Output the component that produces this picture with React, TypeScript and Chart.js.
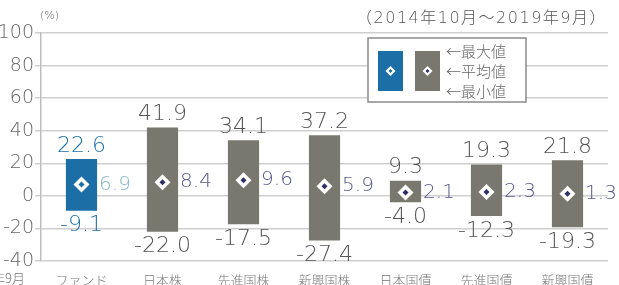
import React, { useEffect, useRef } from "react";
import { Chart, registerables } from "chart.js";

Chart.register(...registerables);

const categories = ["ファンド", "日本株", "先進国株", "新興国株", "日本国債", "先進国債", "新興国債"];
const maxValues = [22.6, 41.9, 34.1, 37.2, 9.3, 19.3, 21.8];
const avgValues = [6.9, 8.4, 9.6, 5.9, 2.1, 2.3, 1.3];
const minValues = [-9.1, -22.0, -17.5, -27.4, -4.0, -12.3, -19.3];
const yTicks = [100, 80, 60, 40, 20, 0, -20, -40];
const periodLabel = "（2014年10月～2019年9月）";
const unitLabel = "(%)";
const legendLabels = ["←最大値", "←平均値", "←最小値"];
const cutLabel = "2019年9月";

const FONT = "'Noto Sans CJK JP', 'Noto Sans', sans-serif";
const NUMFONT = "'DejaVu Sans', 'Noto Sans CJK JP', sans-serif";
const BLUE = "#1b6fa6";
const GRAY = "#78786f";

const barColors = categories.map((_, i) => (i === 0 ? BLUE : GRAY));
const dotColors = categories.map((_, i) => (i === 0 ? BLUE : "#2e2e66"));

function diamond(ctx: CanvasRenderingContext2D, x: number, y: number, r: number, fill: string) {
  ctx.beginPath();
  ctx.moveTo(x, y - r);
  ctx.lineTo(x + r, y);
  ctx.lineTo(x, y + r);
  ctx.lineTo(x - r, y);
  ctx.closePath();
  ctx.fillStyle = fill;
  ctx.fill();
}

const labelPlugin = {
  id: "valueLabels",
  afterDatasetsDraw(chart: any) {
    const ctx = chart.ctx as CanvasRenderingContext2D;
    const xs = chart.scales.x;
    const ys = chart.scales.y;
    const meta = chart.getDatasetMeta(2);
    ctx.save();
    categories.forEach((_, i) => {
      const x = xs.getPixelForValue(i);
      const bar: any = meta.data[i];
      const half = bar && bar.width ? bar.width / 2 : 15.5;
      const isFund = i === 0;
      const mainColor = isFund ? BLUE : "#555555";
      ctx.font = `200 22px ${NUMFONT}`;
      ctx.fillStyle = mainColor;
      ctx.textAlign = "center";
      ctx.textBaseline = "bottom";
      ctx.fillText(maxValues[i].toFixed(1), x, ys.getPixelForValue(maxValues[i]) - 2);
      ctx.textBaseline = "top";
      ctx.fillText(minValues[i].toFixed(1), x, ys.getPixelForValue(minValues[i]) + 4);
      ctx.font = `200 20px ${NUMFONT}`;
      ctx.fillStyle = isFund ? "#86b8cc" : "#57578f";
      ctx.textAlign = "left";
      ctx.textBaseline = "middle";
      ctx.fillText(avgValues[i].toFixed(1), x + half + 2, ys.getPixelForValue(avgValues[i]));
    });
    ctx.restore();
  },
  afterDraw(chart: any) {
    const ctx = chart.ctx as CanvasRenderingContext2D;
    const area = chart.chartArea;
    ctx.save();
    ctx.font = `200 16px ${NUMFONT}`;
    (ctx as any).letterSpacing = "1.5px";
    ctx.fillStyle = "#555";
    ctx.textAlign = "right";
    ctx.textBaseline = "middle";
    ctx.fillText(periodLabel, 607, 19);
    (ctx as any).letterSpacing = "0px";
    ctx.font = `200 11px ${NUMFONT}`;
    ctx.textAlign = "left";
    ctx.fillText(unitLabel, area.left - 1, 16);
    ctx.font = `300 13px ${FONT}`;
    ctx.fillStyle = "#777";
    ctx.textAlign = "right";
    ctx.textBaseline = "top";
    ctx.fillText(cutLabel, 25, 272);
    const bx = 368, by = 38, bw = 158, bh = 64;
    ctx.fillStyle = "#fff";
    ctx.fillRect(bx, by, bw, bh);
    ctx.strokeStyle = "#8a8a8a";
    ctx.lineWidth = 1.5;
    ctx.strokeRect(bx, by, bw, bh);
    ctx.fillStyle = BLUE;
    ctx.fillRect(378, 51, 25, 40);
    ctx.fillStyle = GRAY;
    ctx.fillRect(415, 51, 25, 40);
    diamond(ctx, 390.5, 71, 5, "#fff");
    diamond(ctx, 390.5, 71, 2, BLUE);
    diamond(ctx, 427.5, 71, 5, "#fff");
    diamond(ctx, 427.5, 71, 2, "#2e2e66");
    ctx.font = `300 15px ${FONT}`;
    ctx.fillStyle = "#666";
    ctx.textAlign = "left";
    ctx.textBaseline = "middle";
    legendLabels.forEach((t, k) => ctx.fillText(t, 446, 51 + k * 20));
    ctx.restore();
  },
};

export default function App() {
  const ref = useRef<HTMLCanvasElement | null>(null);
  useEffect(() => {
    if (!ref.current) return;
    const chart = new Chart(ref.current, {
      type: "bar",
      data: {
        labels: categories,
        datasets: [
          {
            type: "line" as any,
            data: avgValues,
            showLine: false,
            pointStyle: "rectRot",
            pointRadius: 3,
            pointBackgroundColor: dotColors,
            pointBorderWidth: 0,
            order: 0,
          } as any,
          {
            type: "line" as any,
            data: avgValues,
            showLine: false,
            pointStyle: "rectRot",
            pointRadius: 8,
            pointBackgroundColor: "#ffffff",
            pointBorderWidth: 0,
            order: 1,
          } as any,
          {
            type: "bar",
            data: categories.map((_, i) => [minValues[i], maxValues[i]]) as any,
            backgroundColor: barColors,
            borderWidth: 0,
            barPercentage: 0.385,
            categoryPercentage: 1,
            order: 2,
          },
        ],
      },
      options: {
        responsive: false,
        animation: false,
        events: [],
        layout: { padding: { left: 0, top: 33, right: 11, bottom: 0 } },
        plugins: { legend: { display: false }, tooltip: { enabled: false }, title: { display: false } },
        scales: {
          x: {
            grid: { display: false, drawTicks: false },
            border: { display: false },
            ticks: { color: "#777", font: { family: FONT, size: 13, weight: "300" as any }, padding: 11, maxRotation: 0 },
            afterFit: (s: any) => { s.height = 39; },
          },
          y: {
            min: -40,
            max: 100,
            afterBuildTicks: (s: any) => { s.ticks = yTicks.map((v) => ({ value: v })); },
            grid: { color: "#cfcfcf", lineWidth: 1.5, tickLength: 6 },
            border: { display: true, color: "#bdbdbd", width: 1.5 },
            ticks: { color: "#666", font: { family: NUMFONT, size: 19, weight: "200" as any }, padding: 1 },
            afterFit: (s: any) => { s.width = 41; },
          },
        },
      },
      plugins: [labelPlugin],
    });
    return () => chart.destroy();
  }, []);
  return (
    <div style={{ position: "absolute", left: 0, top: 0, width: 619, height: 300 }}>
      <canvas ref={ref} width={619} height={300} style={{ display: "block" }} />
    </div>
  );
}
